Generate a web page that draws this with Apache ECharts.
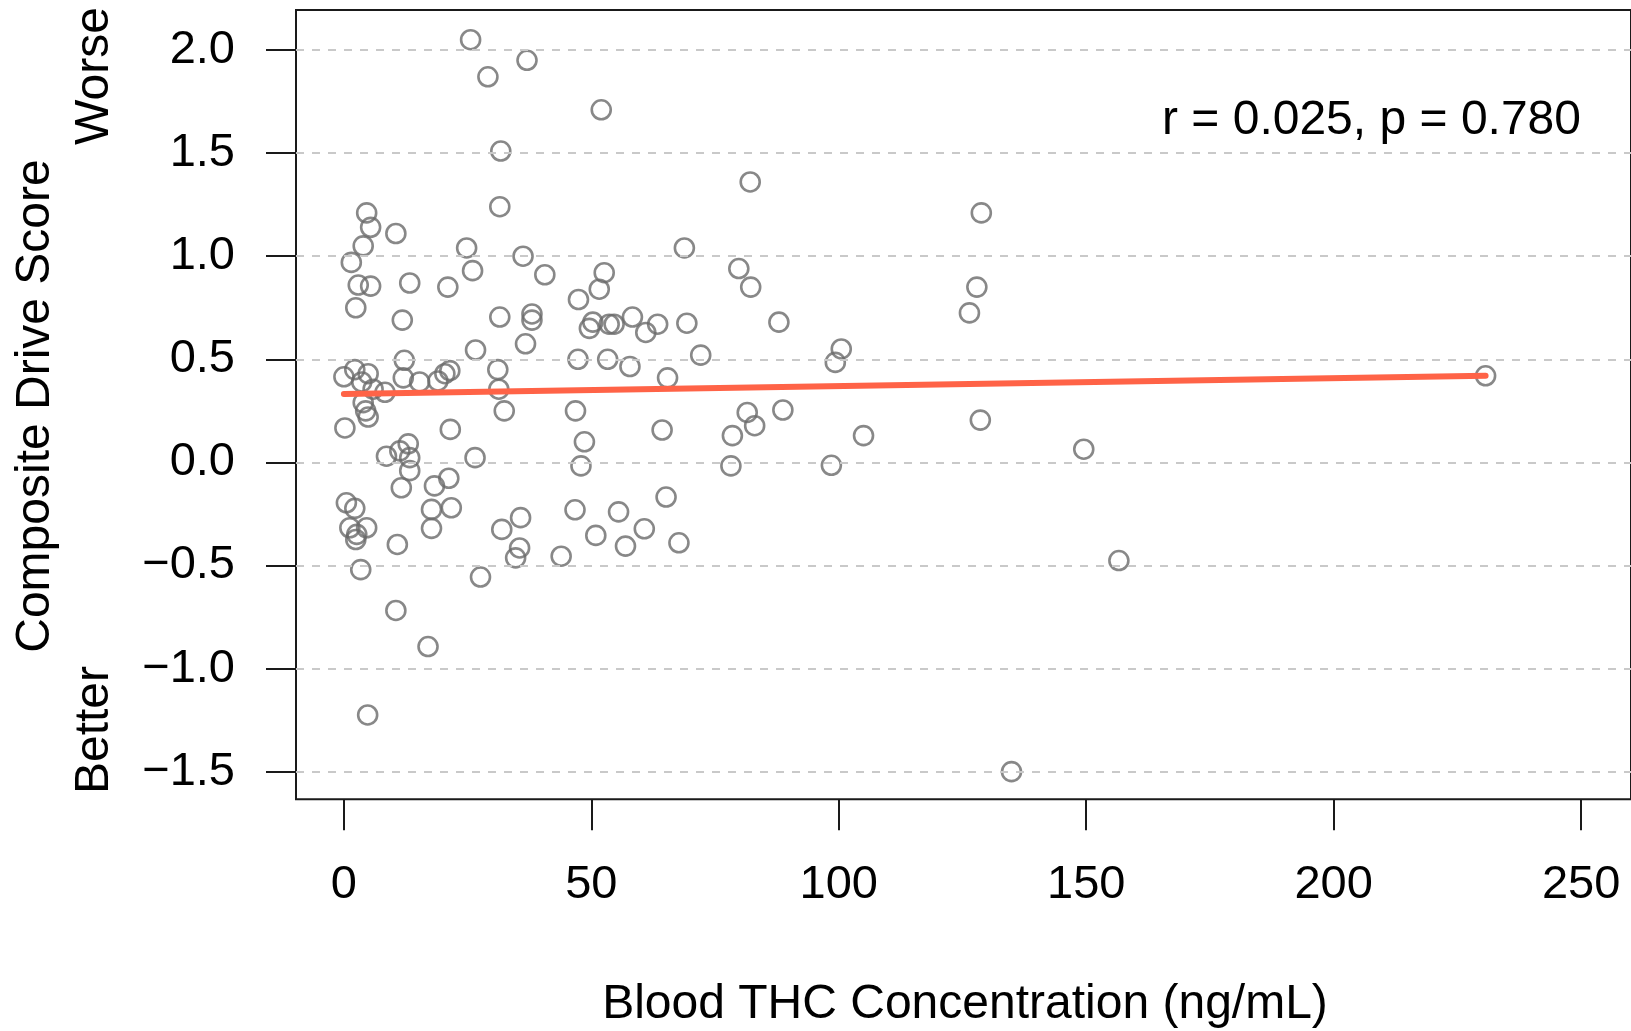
<!DOCTYPE html>
<html>
<head>
<meta charset="utf-8">
<script src="https://cdn.jsdelivr.net/npm/echarts@6/dist/echarts.min.js"></script>
<style>
  html, body { margin: 0; padding: 0; background: #ffffff; }
  #chart { width: 1631px; height: 1031px; }
</style>
</head>
<body>
<div id="chart"></div>
<script>
// Blood THC concentration (ng/mL) for each participant
const thc = [
  25.6, 37.0, 29.1, 52.0, 31.7, 31.5, 82.1, 128.8, 4.6, 5.4,
  10.5, 3.9, 1.5, 24.8, 26.0, 36.2, 40.6, 68.8, 79.8, 82.2,
  2.9, 5.4, 13.3, 21.0, 2.4, 11.8, 31.5, 38.0, 38.0, 52.6,
  51.6, 47.4, 50.3, 49.6, 53.6, 54.6, 58.3, 61.0, 63.4, 69.3,
  87.9, 127.9, 126.4, 36.7, 26.6, 47.3, 53.3, 57.8, 72.1, 100.5,
  99.3, 12.2, 0.0, 2.2, 4.9, 12.0, 15.3, 19.0, 20.4, 21.4,
  31.1, 31.3, 65.4, 230.7, 3.6, 5.9, 8.3, 3.9, 4.4, 4.9,
  0.2, 21.5, 32.4, 46.8, 64.3, 81.5, 83.0, 88.7, 128.6, 48.6,
  78.5, 105.0, 149.5, 8.6, 11.3, 13.0, 13.3, 13.3, 26.5, 47.9,
  78.2, 98.5, 11.6, 18.3, 21.2, 0.5, 2.2, 17.7, 21.7, 46.7,
  55.5, 65.1, 1.2, 2.6, 4.6, 2.4, 17.7, 31.9, 35.7, 10.8,
  50.9, 60.7, 56.9, 67.7, 35.5, 34.7, 43.9, 3.4, 27.6, 156.6,
  10.5, 17.0, 4.8, 134.9
];

// Composite drive score for the same participants (higher = worse)
const score = [
  2.05, 1.95, 1.87, 1.71, 1.51, 1.24, 1.36, 1.21, 1.21, 1.14,
  1.11, 1.05, 0.97, 1.04, 0.93, 1.00, 0.91, 1.04, 0.94, 0.85,
  0.86, 0.855, 0.87, 0.85, 0.75, 0.69, 0.705, 0.72, 0.69, 0.92,
  0.84, 0.79, 0.68, 0.65, 0.67, 0.67, 0.705, 0.63, 0.67, 0.675,
  0.68, 0.85, 0.725, 0.575, 0.545, 0.50, 0.50, 0.465, 0.52, 0.55,
  0.485, 0.495, 0.415, 0.45, 0.43, 0.41, 0.39, 0.395, 0.43, 0.445,
  0.45, 0.355, 0.41, 0.42, 0.39, 0.355, 0.34, 0.29, 0.25, 0.22,
  0.167, 0.16, 0.25, 0.25, 0.157, 0.242, 0.178, 0.254, 0.205, 0.10,
  0.13, 0.13, 0.064, 0.03, 0.056, 0.09, 0.023, -0.04, 0.023, -0.017,
  -0.017, -0.014, -0.123, -0.114, -0.077, -0.196, -0.223, -0.228, -0.22, -0.23,
  -0.24, -0.168, -0.317, -0.349, -0.317, -0.374, -0.32, -0.325, -0.268, -0.398,
  -0.354, -0.322, -0.406, -0.39, -0.415, -0.463, -0.455, -0.52, -0.556, -0.476,
  -0.718, -0.893, -1.225, -1.50
];

// Least-squares fit endpoints over the observed THC range
const fitX = [0, 230.7];
const fitY = [0.332, 0.420];

// Axis ticks
const xTicks = [0, 50, 100, 150, 200, 250];
const yTicks = [-1.5, -1.0, -0.5, 0.0, 0.5, 1.0, 1.5, 2.0];

const statsText = 'r = 0.025, p = 0.780';

const FONT = '"Liberation Sans", Arial, Helvetica, sans-serif';
const INK = '#1a1a1a';

const points = thc.map((x, i) => [x, score[i]]);
const fitLine = fitX.map((x, i) => [x, fitY[i]]);

function fmtY(v) {
  return (v < 0 ? '\u2212' : '') + Math.abs(v).toFixed(1);
}

function textEl(text, x, y, opts) {
  return Object.assign({
    type: 'text',
    x: x,
    y: y,
    silent: true,
    style: {
      text: text,
      font: '48px ' + FONT,
      fill: '#000000',
      textAlign: opts && opts.align || 'center',
      textVerticalAlign: 'middle',
      align: opts && opts.align || 'center',
      verticalAlign: 'middle'
    }
  }, opts && opts.rotation ? { rotation: opts.rotation } : {});
}

const chart = echarts.init(document.getElementById('chart'), null, { renderer: 'canvas' });

chart.setOption({
  animation: false,
  backgroundColor: '#ffffff',
  grid: {
    left: 296,
    top: 10,
    width: 1338,
    height: 789.3,
    show: true,
    borderColor: INK,
    borderWidth: 2,
    backgroundColor: 'transparent'
  },
  xAxis: {
    type: 'value',
    position: 'bottom',
    min: -9.68,
    max: 260.08,
    axisLine: { show: false, onZero: false },
    splitLine: { show: false },
    axisTick: {
      show: true,
      customValues: xTicks,
      length: 31,
      inside: false,
      lineStyle: { color: INK, width: 2 }
    },
    axisLabel: {
      customValues: xTicks,
      margin: 62,
      color: '#000000',
      fontSize: 47,
      fontFamily: FONT
    }
  },
  yAxis: {
    type: 'value',
    position: 'left',
    min: -1.634,
    max: 2.194,
    axisLine: { show: false, onZero: false },
    splitLine: { show: false },
    axisTick: {
      show: true,
      customValues: yTicks,
      length: 30,
      inside: false,
      lineStyle: { color: INK, width: 2 }
    },
    axisLabel: {
      customValues: yTicks,
      margin: 61,
      color: '#000000',
      fontSize: 47,
      fontFamily: FONT,
      formatter: fmtY
    }
  },
  series: [
    {
      // dashed reference lines at each y tick
      type: 'scatter',
      data: [],
      z: 1,
      silent: true,
      markLine: {
        silent: true,
        symbol: 'none',
        label: { show: false },
        lineStyle: { color: '#c9c9c9', width: 2, type: [8, 8] },
        data: yTicks.map(v => ({ yAxis: v }))
      }
    },
    {
      type: 'scatter',
      data: points,
      symbol: 'circle',
      symbolSize: 19,
      z: 2,
      itemStyle: {
        color: 'rgba(0,0,0,0)',
        borderColor: '#6a6a6a',
        borderWidth: 2.6
      }
    },
    {
      type: 'line',
      data: fitLine,
      symbol: 'none',
      showSymbol: false,
      z: 3,
      lineStyle: { color: '#ff6347', width: 6, cap: 'round' }
    }
  ],
  graphic: [
    textEl(statsText, 1162, 121, { align: 'left' }),
    textEl('Blood THC Concentration (ng/mL)', 965, 1005),
    textEl('Composite Drive Score', 36, 406, { rotation: Math.PI / 2 }),
    textEl('Worse', 95, 76, { rotation: Math.PI / 2 }),
    textEl('Better', 95, 730, { rotation: Math.PI / 2 })
  ]
});
</script>
</body>
</html>
